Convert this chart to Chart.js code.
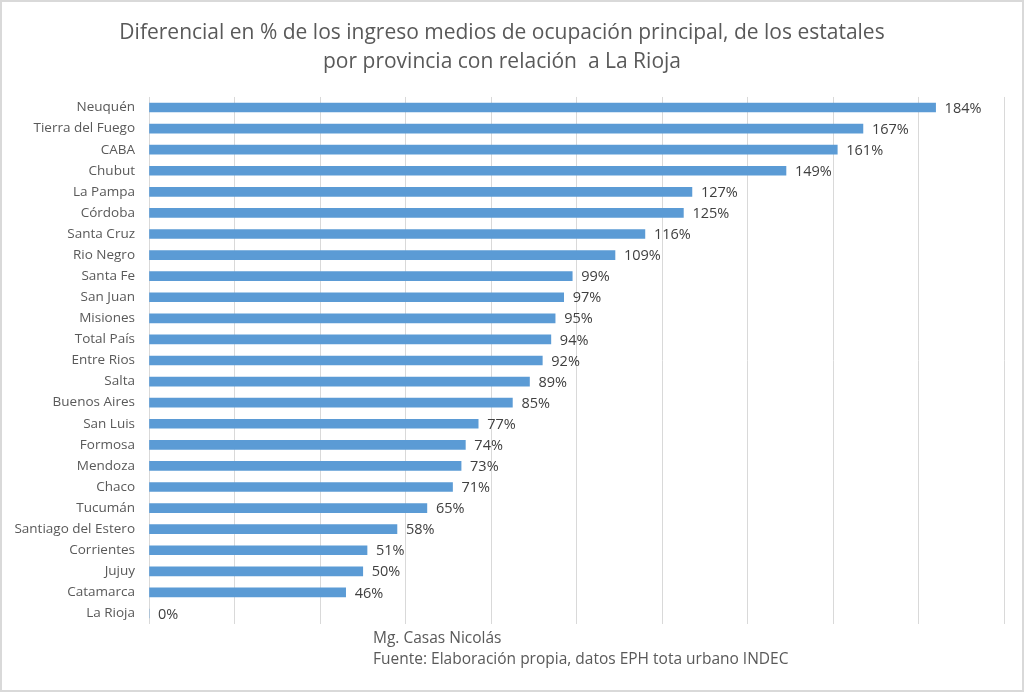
<!DOCTYPE html>
<html>
<head>
<meta charset="utf-8">
<script src="https://cdn.jsdelivr.net/npm/chart.js@4"></script>
<style>
  html, body { margin: 0; padding: 0; background: #fff; }
  #wrap { position: relative; width: 1024px; height: 692px; }
  #frame { position: absolute; left: 0; top: 0; width: 1024px; height: 692px; box-sizing: border-box; border: 2px solid #d9d9d9; pointer-events: none; }
  .note { position: absolute; left: 373px; font: 15.5px "Open Sans", sans-serif; color: #595959; white-space: nowrap; line-height: 21px; }
</style>
</head>
<body>
<div id="wrap">
  <canvas id="chart" width="1024" height="692"></canvas>
  <div class="note" style="top:627px">Mg. Casas Nicolás</div>
  <div class="note" style="top:648px">Fuente: Elaboración propia, datos EPH tota urbano INDEC</div>
  <div id="frame"></div>
</div>
<script>
const provincias = ['Neuquén', 'Tierra del Fuego', 'CABA', 'Chubut', 'La Pampa', 'Córdoba', 'Santa Cruz', 'Rio Negro',
  'Santa Fe', 'San Juan', 'Misiones', 'Total País', 'Entre Rios', 'Salta', 'Buenos Aires', 'San Luis', 'Formosa',
  'Mendoza', 'Chaco', 'Tucumán', 'Santiago del Estero', 'Corrientes', 'Jujuy', 'Catamarca', 'La Rioja'];
const diferencial = [184, 167, 161, 149, 127, 125, 116, 109, 99, 97, 95, 94, 92, 89, 85, 77, 74, 73, 71, 65, 58, 51, 50, 46, 0];
const titulo = ['Diferencial en % de los ingreso medios de ocupación principal, de los estatales',
  'por provincia con relación  a La Rioja'];

// etiquetas de valor al final de cada barra
const barLabels = {
  id: 'barLabels',
  afterDatasetsDraw(chart) {
    const ctx = chart.ctx;
    const meta = chart.getDatasetMeta(0);
    ctx.save();
    ctx.font = '14.5px "Open Sans", sans-serif';
    ctx.fillStyle = '#404040';
    ctx.textAlign = 'left';
    ctx.textBaseline = 'middle';
    meta.data.forEach((bar, i) => {
      ctx.fillText(diferencial[i] + '%', bar.x + 9, bar.y + 1);
    });
    ctx.restore();
  }
};

new Chart(document.getElementById('chart'), {
  type: 'bar',
  data: {
    labels: provincias,
    datasets: [{
      data: diferencial,
      backgroundColor: '#5b9bd5',
      barThickness: 9
    }]
  },
  plugins: [barLabels],
  options: {
    indexAxis: 'y',
    responsive: false,
    animation: false,
    layout: { padding: { left: 0, right: 20, top: 0, bottom: 68 } },
    plugins: {
      legend: { display: false },
      tooltip: { enabled: false },
      title: {
        display: true,
        text: titulo,
        color: '#595959',
        font: { family: '"Open Sans", sans-serif', size: 21, weight: 'normal', lineHeight: 1.38 },
        padding: { top: 19, bottom: 20 }
      }
    },
    scales: {
      x: {
        min: 0, max: 200,
        ticks: { display: false, stepSize: 20 },
        grid: { color: '#d9d9d9', drawTicks: false },
        border: { display: false }
      },
      y: {
        afterFit(scale) { scale.width = 149; },
        ticks: { color: '#595959', font: { family: '"Open Sans", sans-serif', size: 13.5 }, padding: 6, autoSkip: false },
        grid: { display: false },
        border: { display: false }
      }
    }
  }
});
</script>
</body>
</html>
